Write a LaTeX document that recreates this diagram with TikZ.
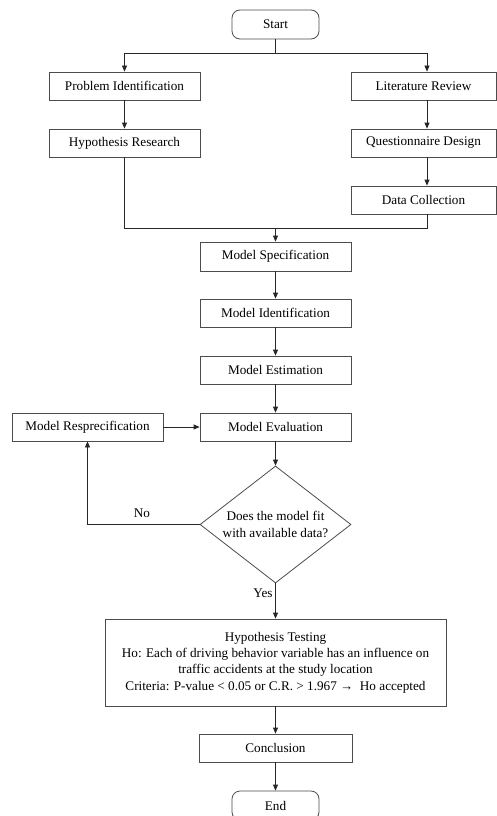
\documentclass[tikz,border=0pt]{standalone}
\usepackage{fontspec}
\setmainfont{Liberation Serif}
\usetikzlibrary{shapes.geometric,arrows.meta}
\tikzset{
  procbox/.style={draw=black!70, line width=0.8pt, rectangle, minimum width=151pt, minimum height=28pt, inner sep=0pt, align=center, fill=white},
  termbox/.style={draw=black!70, line width=0.8pt, rectangle, rounded corners=8pt, minimum width=87pt, minimum height=29pt, inner sep=0pt},
  decbox/.style={draw=black!70, line width=0.8pt, diamond, aspect=1.29, minimum width=151pt, minimum height=117pt, inner sep=0pt, align=center},
  conn/.style={draw=black!85, line width=0.8pt},
  arr/.style={conn, -{Triangle[length=6pt,width=5pt]}},
  lbl/.style={inner sep=0pt}
}
\begin{document}
\begin{tikzpicture}[x=1pt,y=-1pt,font=\fontsize{13.2}{16.3}\selectfont]
\useasboundingbox[fill=white] (0,0) rectangle (497,816);
% nodes
\node[termbox] (start) at (275.5,24.5) {Start};
\node[procbox] (pi) at (124.5,86) {Problem Identification};
\node[procbox] (hr) at (124.5,143) {Hypothesis Research};
\node[procbox, minimum width=145pt] (lr) at (423.5,86) {Literature Review};
\node[procbox, minimum width=145pt] (qd) at (423.5,143) {Questionnaire Design};
\node[procbox, minimum width=145pt] (dc) at (423.5,200) {Data Collection};
\node[procbox, minimum height=29pt] (ms) at (275.5,256.5) {Model Specification};
\node[procbox] (mi) at (275.5,313) {Model Identification};
\node[procbox] (me) at (275.5,370) {Model Estimation};
\node[procbox] (mev) at (275.5,427) {Model Evaluation};
\node[procbox] (mr) at (87.5,427) {Model Resprecification};
\node[decbox] (dec) at (275.5,524.5) {Does the model fit\\with available data?};
\node[procbox, minimum width=341pt, minimum height=87pt] (ht) at (275.5,662.5)
  {Hypothesis Testing\\Ho: Each of driving behavior variable has an influence on\\traffic accidents at the study location\\Criteria: P-value < 0.05 or C.R. > 1.967 →\ \ Ho accepted};
\node[procbox, minimum width=153pt] (cl) at (275.5,748) {Conclusion};
\node[termbox] (end) at (275.5,805.5) {End};
% helper coordinates
\coordinate (split) at (275.5,53);
\coordinate (lc) at (124.5,53);
\coordinate (rc) at (427,53);
\coordinate (join) at (275.5,228);
\coordinate (nocorner) at (87.5,524.5);
% connectors
\draw[conn] (start.south) -- (split);
\draw[arr] (split) -- (lc) -- (pi.north);
\draw[arr] (split) -- (rc) -- (lr.north -| rc);
\draw[arr] (pi) -- (hr);
\draw[arr] (lr.south -| rc) -- (qd.north -| rc);
\draw[arr] (qd.south -| rc) -- (dc.north -| rc);
\draw[conn] (hr.south) |- (join);
\draw[conn] (dc.south -| rc) |- (join);
\draw[arr] (join) -- (ms.north);
\draw[arr] (ms) -- (mi);
\draw[arr] (mi) -- (me);
\draw[arr] (me) -- (mev);
\draw[arr] (mev) -- (dec.north);
\draw[arr] (mr) -- (mev);
\draw[arr] (dec.west) -- (nocorner) -- (mr.south);
\draw[arr] (dec.south) -- (ht.north);
\draw[arr] (ht) -- (cl);
\draw[arr] (cl) -- (end);
% labels
\node[lbl] (nolbl) at (142,513) {No};
\node[lbl] (yeslbl) at (263,593) {Yes};
\end{tikzpicture}
\end{document}
